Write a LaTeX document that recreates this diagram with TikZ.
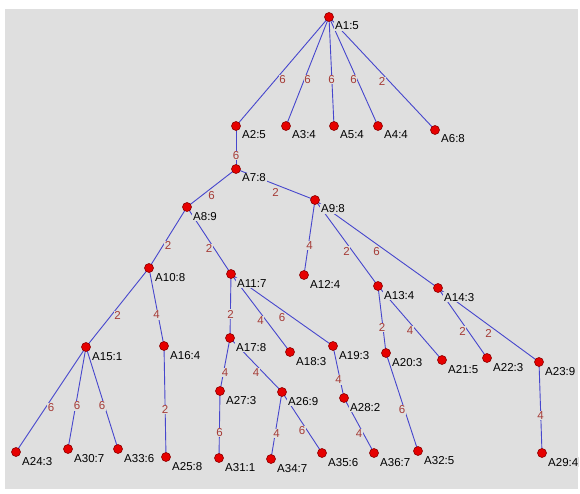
\documentclass[tikz,border=0pt]{standalone}
\usepackage{fontspec}
\setmainfont{Liberation Sans}
\usetikzlibrary{backgrounds}
\pgfdeclarelayer{back}
\pgfdeclarelayer{edges}
\pgfdeclarelayer{labels}
\pgfsetlayers{back,edges,labels,main}
\definecolor{panel}{RGB}{223,223,223}
\definecolor{edgeblue}{RGB}{70,70,205}
\definecolor{wtred}{RGB}{165,60,55}
\definecolor{vtxred}{RGB}{230,0,0}
\definecolor{vtxedge}{RGB}{140,0,0}
\tikzset{
  vtx/.style={circle,fill=vtxred,draw=vtxedge,line width=0.6pt,minimum size=9pt,inner sep=0pt},
  edge/.style={draw=edgeblue,line width=0.9pt},
  wt/.style={text=wtred,fill=panel,inner sep=0.6pt,font=\fontsize{11.5}{12}\selectfont,yshift=-8pt,pos=0.5},
  lbl/.style={fill=panel,inner sep=1pt,anchor=base west,font=\fontsize{11.5}{12}\selectfont,text=black}
}
\begin{document}
\begin{tikzpicture}[x=1pt,y=-1pt]
\begin{pgfonlayer}{back}
\fill[white] (0,0) rectangle (580,494);
\fill[panel] (5,9) rectangle (578,489);
\end{pgfonlayer}
\useasboundingbox (0,0) rectangle (580,494);
% vertices
\foreach \n/\x/\y in {1/329/17,2/236/126,3/286/126,5/334/126,4/378/126,6/435/130,
  7/236/169,8/187/207,9/315/200,10/149/268,11/231/274,12/304/275,13/378/286,14/438/288,
  15/86/347,16/164/346,17/230/338,18/290/352,19/333/346,20/386/353,21/442/360,22/487/358,
  23/539/362,24/16/452,25/166/457,26/282/392,27/220/391,28/344/398,29/542/453,30/68/449,
  31/219/458,32/418/451,33/118/449,34/271/459,35/322/453,36/374/453}
  {\node[vtx] (a\n) at (\x,\y) {};}
% vertex labels
\begin{pgfonlayer}{labels}
\foreach \n/\w in {1/5,2/5,3/4,5/4,4/4,6/8,7/8,8/9,9/8,10/8,11/7,12/4,13/4,14/3,15/1,16/4,
  17/8,18/3,19/3,20/3,21/5,22/3,23/9,24/3,25/8,26/9,27/3,28/2,29/4,30/7,31/1,32/5,33/6,
  34/7,35/6,36/7}
  {\node[lbl] (l\n) at ([xshift=5pt,yshift=-13pt]a\n.center) {A\n:\w};}
\end{pgfonlayer}
% edges
\begin{pgfonlayer}{edges}
\foreach \s/\t/\w in {1/2/6,1/3/6,1/5/6,1/4/6,1/6/2,2/7/6,7/8/6,7/9/2,8/10/2,8/11/2,
  9/12/4,9/13/2,9/14/6,10/15/2,10/16/4,11/17/2,11/18/4,11/19/6,13/20/2,13/21/4,
  14/22/2,14/23/2,15/24/6,15/30/6,15/33/6,16/25/2,17/27/4,17/26/4,19/28/4,20/32/6,
  23/29/4,27/31/6,26/34/4,26/35/6,28/36/4}
  {\draw[edge] (a\s.center) -- node[wt] (w\s-\t) {\w} (a\t.center);}
\end{pgfonlayer}
\end{tikzpicture}
\end{document}
